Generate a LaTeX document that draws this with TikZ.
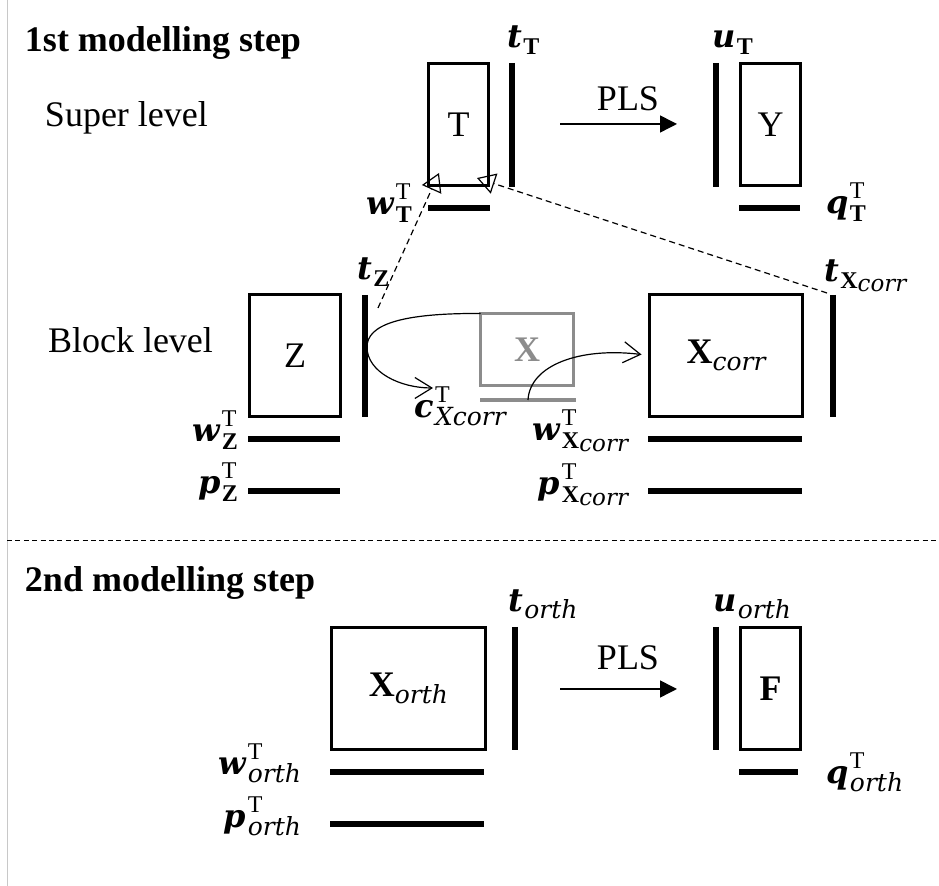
\documentclass[tikz,border=0pt]{standalone}
\usepackage{fontspec}
\setmainfont{Liberation Serif}
\newfontfamily\lfont{DejaVu Serif}
\usetikzlibrary{arrows.meta}
\definecolor{gbox}{HTML}{8C8C8C}
\definecolor{sepgray}{HTML}{C8C8C8}
% label pieces
\newcommand{\mv}[1]{{\lfont\fontsize{16}{19}\selectfont\bfseries\itshape #1}\kern0.8pt}
\newcommand{\sU}[1]{{\fontsize{12}{14}\selectfont\mdseries\upshape #1}}
\newcommand{\sB}[1]{{\fontsize{12}{14}\selectfont\bfseries\upshape #1}}
\newcommand{\sI}[1]{{\lfont\fontsize{12.5}{14}\selectfont\mdseries\itshape #1}}
\newcommand{\ssI}[1]{\raisebox{-1.5pt}{\lfont\fontsize{11.5}{13}\selectfont\mdseries\itshape #1}}
\newcommand{\SupSub}[2]{\rlap{\raisebox{7.5pt}{#1}}\raisebox{-4pt}{#2}}
\newcommand{\Sub}[1]{\raisebox{-3.5pt}{#1}}
\begin{document}
\begin{tikzpicture}[x=0.5pt,y=-0.5pt,font=\fontsize{18}{21}\selectfont,
  mat/.style={draw, line width=1.5pt, inner sep=0pt, outer sep=0pt},
  vec/.style={line width=3pt},
  gvec/.style={line width=2pt, draw=gbox},
  lab/.style={inner sep=0pt, outer sep=0pt},
  headfont/.style={font=\fontsize{18}{21}\selectfont\bfseries},
  sepline/.style={line width=0.5pt, dash pattern=on 2.5pt off 1.7pt},
  dasharrow/.style={line width=0.6pt, dash pattern=on 3pt off 2pt, -{Triangle[open, length=9pt, width=10.5pt, line width=0.6pt]}},
  curvearrow/.style={line width=0.6pt, -{Straight Barb[length=8.5pt, width=10.5pt, line width=0.6pt]}},
  plsarrow/.style={line width=0.75pt, -{Triangle[length=8.5pt, width=8.5pt]}}]
\useasboundingbox (0,0) rectangle (939,886);
% frame line and separator
\coordinate (frT) at (7,0); \coordinate (frB) at (7,886);
\draw[line width=0.5pt, sepgray] (frT) -- (frB);
\coordinate (sepL) at (7,541); \coordinate (sepR) at (939,541);
\draw[sepline] (sepL) -- (sepR);
% headings
\node[lab, anchor=base west, headfont] (h1) at (25,52) {1st modelling step};
\node[lab, anchor=base west] (sup) at (45,127) {Super level};
\node[lab, anchor=base west] (blk) at (48,353) {Block level};
\node[lab, anchor=base west, headfont] (h2) at (25,592) {2nd modelling step};
% matrices
\node[mat, minimum width=30pt, minimum height=61pt] (T) at (458.5,124.5) {T};
\node[mat, minimum width=30pt, minimum height=61pt] (Y) at (770.5,124.5) {Y};
\node[mat, minimum width=45.5pt, minimum height=61pt] (Z) at (295,355.5) {Z};
\node[mat, draw=gbox, text=gbox, minimum width=46.5pt, minimum height=36pt] (X) at (527,349.5) {\bfseries X};
\node[mat, minimum width=76.5pt, minimum height=61pt] (Xc) at (726,355.5) {{\bfseries X}\Sub{\sI{corr}}};
\node[mat, minimum width=77pt, minimum height=61pt] (Xo) at (408.5,688.5) {{\bfseries X}\Sub{\sI{orth}}};
\node[mat, minimum width=30pt, minimum height=61pt] (F) at (770.5,688.5) {\bfseries F};
% score / loading vectors
\draw[vec] (512,63) -- (512,187);
\draw[vec] (716,63) -- (716,187);
\draw[vec] (428,208) -- (490,208);
\draw[vec] (739,208) -- (800,208);
\draw[vec] (365,295) -- (365,417);
\draw[vec] (248,439) -- (340,439);
\draw[vec] (248,491) -- (340,491);
\draw[gvec] (480,400) -- (576,400);
\draw[vec] (833,295) -- (833,417);
\draw[vec] (648,439) -- (802,439);
\draw[vec] (648,491) -- (802,491);
\draw[vec] (515,627) -- (515,750);
\draw[vec] (716,627) -- (716,750);
\draw[vec] (330,772) -- (484,772);
\draw[vec] (330,824) -- (484,824);
\draw[vec] (739,772) -- (798,772);
% labels
\node[lab, anchor=base west] (ltT) at (507,48) {\mv{t}\Sub{\sB{T}}};
\node[lab, anchor=base west] (luT) at (712,48) {\mv{u}\Sub{\sB{T}}};
\node[lab, anchor=base east] (lwT) at (412,215) {\mv{w}\SupSub{\sU{T}}{\sB{T}}};
\node[lab, anchor=base west] (lqT) at (826,214) {\mv{q}\SupSub{\sU{T}}{\sB{T}}};
\node[lab, anchor=base west] (ltZ) at (357,280) {\mv{t}\Sub{\sB{Z}}};
\node[lab, anchor=base east] (lwZ) at (238,442) {\mv{w}\SupSub{\sU{T}}{\sB{Z}}};
\node[lab, anchor=base east] (lpZ) at (238,494) {\mv{p}\SupSub{\sU{T}}{\sB{Z}}};
\node[lab, anchor=base west] (lc) at (414,418) {\mv{c}\SupSub{\sU{T}}{\sI{Xcorr}}};
\node[lab, anchor=base west] (ltX) at (824,282) {\mv{t}\Sub{\sB{X}\ssI{corr}}};
\node[lab, anchor=base east] (lwX) at (628,441) {\mv{w}\SupSub{\sU{T}}{\sB{X}\ssI{corr}}};
\node[lab, anchor=base east] (lpX) at (628,495) {\mv{p}\SupSub{\sU{T}}{\sB{X}\ssI{corr}}};
\node[lab, anchor=base west] (lto) at (508,612) {\mv{t}\Sub{\sI{orth}}};
\node[lab, anchor=base west] (luo) at (713,612) {\mv{u}\Sub{\sI{orth}}};
\node[lab, anchor=base east] (lwo) at (301,775) {\mv{w}\SupSub{\sU{T}}{\sI{orth}}};
\node[lab, anchor=base east] (lpo) at (301,828) {\mv{p}\SupSub{\sU{T}}{\sI{orth}}};
\node[lab, anchor=base west] (lqo) at (826,784) {\mv{q}\SupSub{\sU{T}}{\sI{orth}}};
% PLS arrows
\node[lab, anchor=base] (pls1) at (628,111) {PLS};
\node[lab, anchor=base] (pls2) at (628,670) {PLS};
\coordinate (p1s) at (560,124); \coordinate (p1e) at (677,124);
\coordinate (p2s) at (560,689); \coordinate (p2e) at (677,689);
\draw[plsarrow] (p1s) -- (p1e);
\draw[plsarrow] (p2s) -- (p2e);
% dashed arrows to super level
\coordinate (tZtop) at (378,308);
\coordinate (tXtop) at (827,293);
\coordinate (tipA) at (439,173);
\coordinate (tipB) at (477,178);
\draw[dasharrow] (tZtop) -- (tipA);
\draw[dasharrow] (tXtop) -- (tipB);
% curved arrows
\coordinate (ctip) at (433,388);
\coordinate (gmid) at (528,400);
\draw[curvearrow] (X.north west) .. controls (400,313) and (367,325) .. (367,347) .. controls (367,372) and (400,388) .. (ctip);
\draw[curvearrow, shorten >=4pt] (gmid) .. controls (530,365) and (580,347) .. (Xc.west);
\end{tikzpicture}
\end{document}
